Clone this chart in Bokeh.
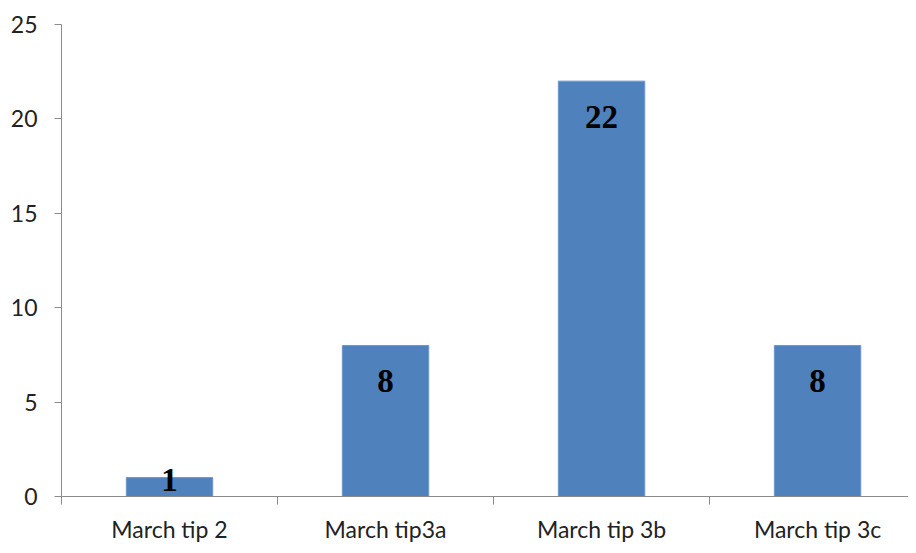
from bokeh.plotting import figure
from bokeh.models import ColumnDataSource, FixedTicker, Range1d
from bokeh.core.properties import value
from bokeh.embed import file_html
from bokeh.resources import INLINE

categories = ["March tip 2", "March tip3a", "March tip 3b", "March tip 3c"]
counts = [1, 8, 22, 8]

bar_color = "#4F81BD"
axis_color = "#8C8C8C"

xs = [i + 0.5 for i in range(len(categories))]
label_y = [max(c - 1.9, 0.86) for c in counts]
labels = [str(c) for c in counts]

src = ColumnDataSource(dict(x=xs, top=counts, ly=label_y, lab=labels))

p = figure(width=908, height=545, output_backend="svg", toolbar_location=None,
           x_range=Range1d(0, 3.921), y_range=Range1d(0, 25),
           min_border_left=61, min_border_right=0, min_border_top=24, min_border_bottom=46)
p.outline_line_color = None
p.xgrid.visible = False
p.ygrid.visible = False

p.vbar(x="x", top="top", width=0.4, bottom=0, source=src, fill_color=bar_color,
       line_color="#6E96CB", line_width=1)
p.text(x="x", y="ly", text="lab", source=src, text_align="center", text_baseline="middle",
       text_font=value("Liberation Serif"), text_font_style="bold", text_font_size="33px",
       text_color="black")

# y axis
p.yaxis.ticker = FixedTicker(ticks=[0, 5, 10, 15, 20, 25])
p.yaxis.axis_line_color = axis_color
p.yaxis.major_tick_line_color = axis_color
p.yaxis.major_tick_out = 7
p.yaxis.major_tick_in = 0
p.yaxis.minor_tick_line_color = None
p.yaxis.major_label_standoff = 17
p.yaxis.major_label_text_font = "Lato"
p.yaxis.major_label_text_font_size = "23px"
p.yaxis.major_label_text_color = "#222222"

# x axis: category names at centres, boundary ticks as minor ticks
p.xaxis.ticker = FixedTicker(ticks=xs, minor_ticks=[0, 1, 2, 3])
p.xaxis.major_label_overrides = {x: c for x, c in zip(xs, categories)}
p.xaxis.axis_line_color = axis_color
p.xaxis.major_tick_line_color = None
p.xaxis.major_tick_out = 0
p.xaxis.major_tick_in = 0
p.xaxis.minor_tick_line_color = axis_color
p.xaxis.minor_tick_out = 8
p.xaxis.minor_tick_in = 0
p.xaxis.major_label_standoff = 10
p.xaxis.major_label_text_font = "Lato"
p.xaxis.major_label_text_font_size = "23px"
p.xaxis.major_label_text_color = "#222222"

open("out.html", "w").write(file_html(p, INLINE))
